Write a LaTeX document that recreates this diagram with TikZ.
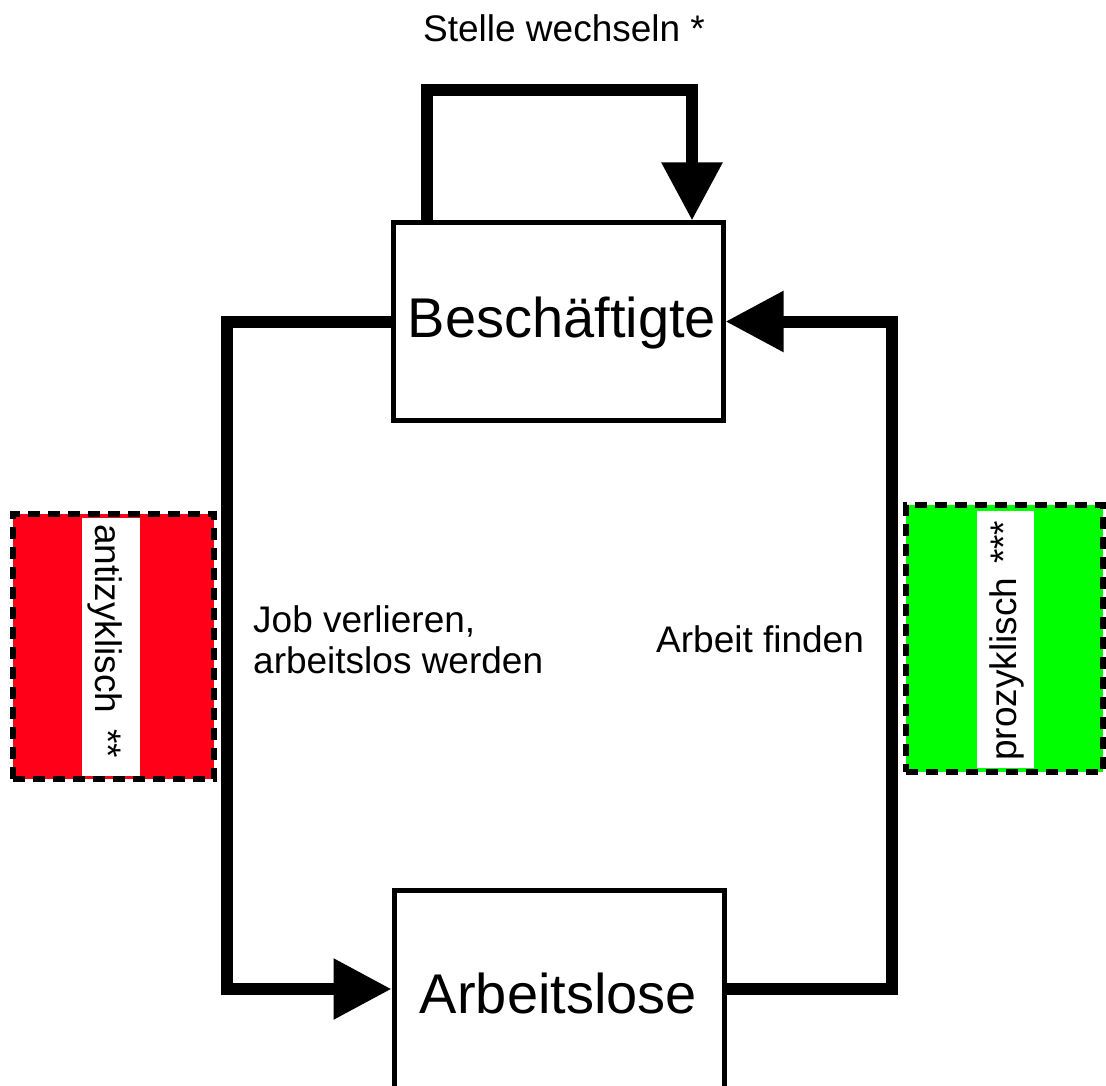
\documentclass[tikz,border=0pt]{standalone}
\usepackage{fontspec}
\setmainfont{Liberation Sans}
\usetikzlibrary{arrows.meta}
\definecolor{redbox}{RGB}{255,0,24}
\definecolor{greenbox}{RGB}{0,255,0}
\begin{document}
\begin{tikzpicture}[x=1pt,y=-1pt,
  box/.style={draw=black,line width=5pt,minimum width=330pt,minimum height=197pt,inner sep=0pt},
  conn/.style={line width=12pt,line join=miter,-{Triangle[length=58pt,width=58pt]}},
  lbl/.style={font=\fontsize{37}{41}\selectfont,inner sep=0pt},
  big/.style={font=\fontsize{56}{60}\selectfont,inner sep=0pt},
  tag/.style={draw=black,line width=6pt,dash pattern=on 12pt off 8pt,inner sep=0pt},
  strip/.style={fill=white,inner sep=0pt}]
\useasboundingbox (0,0) rectangle (1106,1086);
\clip (0,0) rectangle (1106,1086);
\fill[white] (0,0) rectangle (1106,1086);
% boxes
\node[box] (bes) at (558,321.5) {};
\node[box,minimum height=198pt] (arb) at (559,989) {};
\node[big,anchor=base] (bestext) at (562,337) {Beschäftigte};
\node[big,anchor=base] (arbtext) at (558.5,1013) {Arbeitslose};
% tags
\node[tag,fill=redbox,minimum width=201pt,minimum height=265pt] (red) at (113.5,646.5) {};
\node[strip,minimum width=58pt,minimum height=258pt] (redstrip) at (111,647) {};
\node[tag,fill=greenbox,minimum width=197pt,minimum height=267pt] (green) at (1004,638.5) {};
\node[strip,minimum width=57pt,minimum height=257pt] (greenstrip) at (1005.5,639.5) {};
\node[lbl,anchor=base west,rotate=-90] (anti) at (95,524) {antizyklisch\hspace{16pt}**};
\node[lbl,anchor=base west,rotate=90] (pro) at (1016,761) {prozyklisch\hspace{14pt}***};
% connectors
\coordinate (l1) at (427,90);
\coordinate (l2) at (692,90);
\draw[conn] (bes.north -| l1) -- (l1) -- (l2) -- (bes.north -| l2);
\coordinate (a1) at (227,321.5);
\coordinate (a2) at (227,989);
\draw[conn] (bes.west) -- (a1) -- (a2) -- (arb.west);
\coordinate (b1) at (892,989);
\coordinate (b2) at (892,321.5);
\draw[conn] (arb.east) -- (b1) -- (b2) -- (bes.east);
% labels
\node[lbl,anchor=base west] (stelle) at (423,42) {Stelle wechseln *};
\node[lbl,anchor=north west,align=left] (job) at (253,605) {Job verlieren,\\arbeitslos werden};
\node[lbl,anchor=base west] (find) at (656,652) {Arbeit finden};
\end{tikzpicture}
\end{document}
